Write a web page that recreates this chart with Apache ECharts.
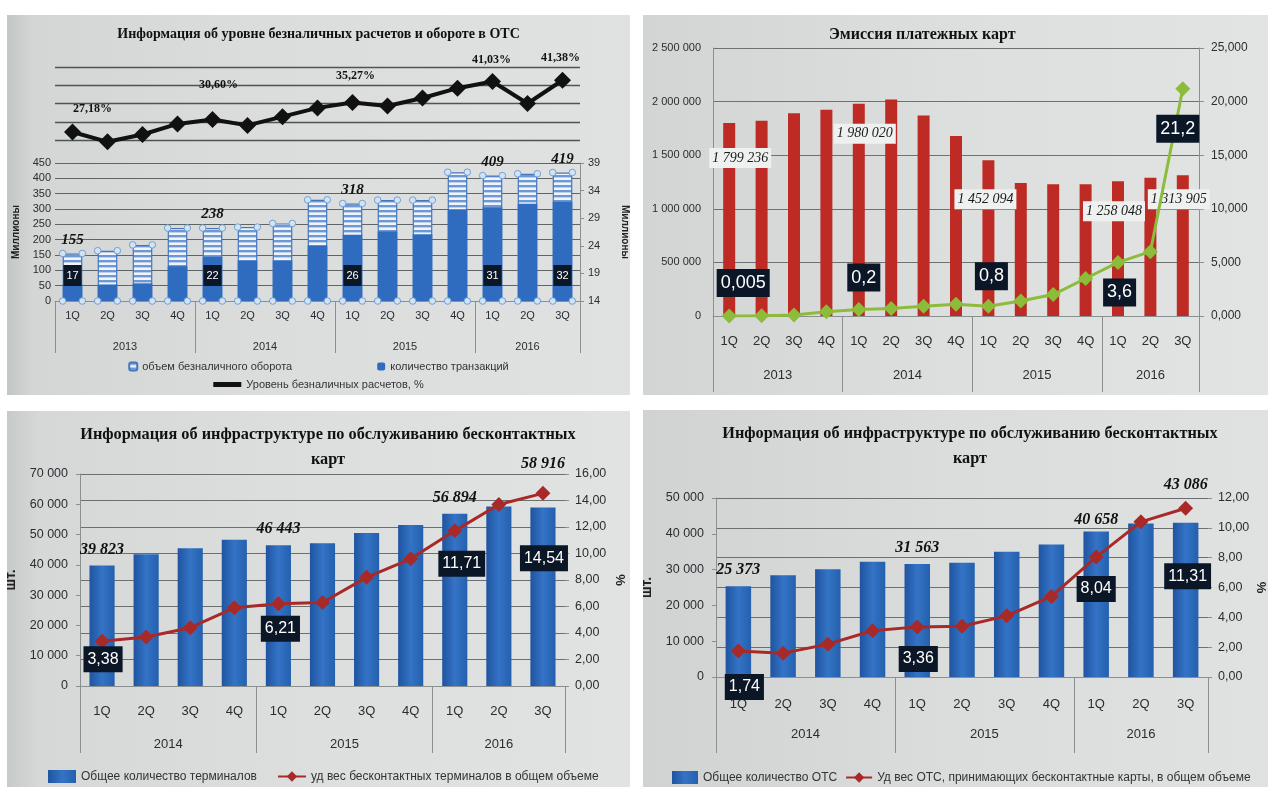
<!DOCTYPE html>
<html><head><meta charset="utf-8">
<script src="https://cdn.jsdelivr.net/npm/echarts@6/dist/echarts.min.js"></script>
<style>
html,body{margin:0;padding:0;background:#fff;width:1268px;height:787px;overflow:hidden;}
.panel{position:absolute;}
#tl{left:7px;top:15px;width:623px;height:380px;background:linear-gradient(90deg,#c2c6c5 0%,#d3d6d5 4%,#dadddc 40%,#e0e2e1 100%);}
#tr{left:643px;top:15px;width:625px;height:380px;background:linear-gradient(90deg,#d2d5d4 0%,#dcdfde 50%,#e2e4e3 100%);}
#bl{left:7px;top:411px;width:623px;height:376px;background:linear-gradient(90deg,#c6cac9 0%,#d5d8d7 5%,#dcdfde 50%,#e1e3e2 100%);}
#br{left:643px;top:410px;width:625px;height:377px;background:linear-gradient(90deg,#d0d3d2 0%,#dadddc 50%,#e0e2e1 100%);}
</style></head><body>
<div id="tl" class="panel"></div>
<div id="tr" class="panel"></div>
<div id="bl" class="panel"></div>
<div id="br" class="panel"></div>
<script>
// ================= DATA =================
// Chart 1 (top-left): 2013-2016 quarters
const quarters15 = ['1Q','2Q','3Q','4Q','1Q','2Q','3Q','4Q','1Q','2Q','3Q','4Q','1Q','2Q','3Q'];
const years15 = ['2013','2014','2015','2016'];
const yearQuarterCounts15 = [4,4,4,3];
const turnoverVolume = [155,164,183,238,238,241,253,330,318,329,329,420,409,415,419];
const transactionsCount = [17,17,17.2,20.3,22,21.3,21.3,24,26,26.6,26.1,30.6,31,31.6,32];
const cashlessLevel = [27.18,24.5,26.5,29.4,30.60,29.0,31.4,33.8,35.27,34.3,36.5,39.2,41.03,35.0,41.38];
const labeledIdx15 = [0,4,8,12,14];

// Chart 2 (top-right): emission of payment cards
const cardsIssued = [1799236,1822000,1892000,1925000,1980020,2020000,1870000,1680000,1452094,1240000,1230000,1230000,1258048,1290000,1313905];
const cardShare = [0.005,0.02,0.1,0.4,0.6,0.7,0.9,1.1,0.9,1.4,2.0,3.5,5.0,6.0,21.2];
const cardShareLabels = ['0,005','','','','0,2','','','','0,8','','','3,6','','','21,2'];
const cardsLabeledIdx = [0,4,8,12,14];

// Charts 3, 4 (bottom): 2014-2016 quarters
const quarters11 = ['1Q','2Q','3Q','4Q','1Q','2Q','3Q','4Q','1Q','2Q','3Q'];
const years11 = ['2014','2015','2016'];
const yearQuarterCounts11 = [4,4,3];
const terminalsTotal = [39823,43500,45500,48300,46443,47100,50500,53200,56894,59300,58916];
const contactlessTerminalShare = [3.38,3.7,4.4,5.9,6.21,6.3,8.2,9.6,11.71,13.7,14.54];
const posTotal = [25373,28400,30100,32200,31563,31900,35000,37000,40658,42900,43086];
const contactlessPosShare = [1.74,1.6,2.2,3.1,3.36,3.4,4.1,5.4,8.04,10.4,11.31];
const labeledIdx11 = [0,4,8,10];

// ================= HELPERS =================
const SERIF = "'Liberation Serif','Times New Roman',serif";
const SANS = "'Liberation Sans',Arial,sans-serif";
const TXT = '#2a2e31';
const AXC = '#8a8f90';
function fmtSpace(v){ return String(Math.round(v)).replace(/\B(?=(\d{3})+(?!\d))/g,' '); }
function fmtComma(v,d){ return Number(v).toFixed(d).replace('.',','); }
function withLabels(values, idxList, labelFor){
  return values.map((v,i)=> idxList.indexOf(i)>=0 ? {value:v, label:Object.assign({show:true}, labelFor(i))} : v);
}
function yearAxis(gridIndex, years, counts, tickLen, labelMargin, fontSize){
  const bounds=[-0.5], centers=[]; let s=0;
  counts.forEach(c=>{ centers.push(s+(c-1)/2); s+=c; bounds.push(s-0.5); });
  return {type:'value', gridIndex, position:'bottom', min:-0.5, max:s-0.5,
    axisLine:{show:false, onZero:false}, splitLine:{show:false},
    axisTick:{show:true, customValues:bounds, length:tickLen, lineStyle:{color:AXC, width:1}},
    axisLabel:{show:true, customValues:centers, margin:labelMargin, color:TXT, fontSize, fontFamily:SANS,
      formatter:(v)=>{ const i=centers.findIndex(c=>Math.abs(c-v)<1e-6); return i>=0?years[i]:''; }}};
}
function stripePattern(){
  const c=document.createElement('canvas'); c.width=8; c.height=5;
  const g=c.getContext('2d');
  g.fillStyle='#f1f5fb'; g.fillRect(0,0,8,5);
  g.fillStyle='#6d98d4'; g.fillRect(0,0,8,2.4);
  return c;
}
const boxLabel = (fs)=>({color:'#fff', backgroundColor:'#0b1627', fontFamily:SANS, fontSize:fs, padding:[5,4], position:'inside'});
const blueGrad = {type:'linear',x:0,y:0,x2:1,y2:0,colorStops:[{offset:0,color:'#1f549f'},{offset:0.5,color:'#3473c6'},{offset:1,color:'#2460ad'}]};

// ================= CHART 1 (top-left) =================
(function(){
  const ch = echarts.init(document.getElementById('tl'));
  const lineOffsets = {0:[20,-23],4:[6,-35],8:[3,-27],12:[-1,-22],14:[-2,-22]};
  ch.setOption({
    animation:false,
    title:{text:'Информация об уровне безналичных расчетов и обороте в ОТС', left:'center', top:7,
      textStyle:{fontFamily:SERIF, fontWeight:'bold', fontSize:14, color:'#111'}},
    grid:[{left:48, right:50, top:52, height:73, outerBoundsMode:'none'},{left:48, right:50, top:148, height:138, outerBoundsMode:'none'}],
    xAxis:[
      {type:'category', gridIndex:0, data:quarters15, show:false},
      {type:'category', gridIndex:1, data:quarters15, axisTick:{show:false}, axisLine:{lineStyle:{color:AXC}},
        axisLabel:{margin:9, fontSize:11, color:TXT, fontFamily:SANS}},
      yearAxis(1, years15, yearQuarterCounts15, 52, 40, 11)
    ],
    yAxis:[
      {type:'value', gridIndex:0, min:25, max:45, interval:5, axisLabel:{show:false}, axisLine:{show:false, onZero:false}, axisTick:{show:false},
        splitLine:{lineStyle:{color:'#4e5353', width:1.3}}},
      {type:'value', gridIndex:1, min:0, max:450, interval:50, name:'Миллионы', nameLocation:'middle', nameGap:32, nameRotate:90,
        nameTextStyle:{fontWeight:'bold', fontSize:10, color:'#222', fontFamily:SANS},
        axisLine:{show:false, onZero:false}, axisTick:{show:false}, axisLabel:{margin:4, fontSize:11, color:TXT, fontFamily:SANS},
        splitLine:{lineStyle:{color:'#5f6464', width:1.1}}},
      {type:'value', gridIndex:1, position:'right', min:14, max:39, name:'Миллионы', nameLocation:'middle', nameGap:40, nameRotate:-90,
        nameTextStyle:{fontWeight:'bold', fontSize:10, color:'#222', fontFamily:SANS},
        axisLine:{show:true, onZero:false, lineStyle:{color:AXC}}, axisTick:{show:true, length:4, customValues:[14,19,24,29,34,39], lineStyle:{color:AXC}},
        axisLabel:{margin:8, fontSize:11, color:TXT, fontFamily:SANS, customValues:[14,19,24,29,34,39]}, splitLine:{show:false}}
    ],
    legend:[
      {data:['объем безналичного оборота','количество транзакций'], top:341, left:'center', itemGap:85, itemWidth:8, itemHeight:8,
        textStyle:{fontSize:11, color:'#333', fontFamily:SANS}},
      {data:[{name:'Уровень безналичных расчетов, %', icon:'rect'}], top:359, left:'center', itemWidth:28, itemHeight:5,
        textStyle:{fontSize:11, color:'#333', fontFamily:SANS}}
    ],
    series:[
      {name:'объем безналичного оборота', type:'bar', xAxisIndex:1, yAxisIndex:1, barWidth:'56%',
        itemStyle:{color:{image:stripePattern(), repeat:'repeat'}, borderColor:'#4577c0', borderWidth:1.2},
        label:{show:false, position:'top', distance:6, fontFamily:SERIF, fontStyle:'italic', fontWeight:'bold', fontSize:15, color:'#111',
          formatter:(p)=>fmtSpace(p.value)},
        data:withLabels(turnoverVolume, labeledIdx15, ()=>({}))},
      {name:'количество транзакций', type:'bar', xAxisIndex:1, yAxisIndex:2, barWidth:'56%', barGap:'-100%',
        itemStyle:{color:'#2f6cc0'},
        label:{show:false, position:'insideBottom', distance:15, color:'#fff', backgroundColor:'#0b1627', fontFamily:SANS, fontSize:11, padding:[5,3],
          formatter:(p)=>String(p.value)},
        data:withLabels(transactionsCount, labeledIdx15, ()=>({}))},
      {name:'handles', type:'custom', xAxisIndex:1, yAxisIndex:1, silent:true, z:5,
        renderItem:(params, api)=>{
          const i=api.value(0), v=api.value(1);
          const top=api.coord([i,v]), bot=api.coord([i,0]);
          const w=api.size([1,0])[0]*0.56/2;
          const pts=[[top[0]-w,top[1]],[top[0]+w,top[1]],[bot[0]-w,bot[1]],[bot[0]+w,bot[1]]];
          return {type:'group', children:pts.map(p=>({type:'circle', shape:{cx:p[0],cy:p[1],r:3.3},
            style:{fill:'#d3e3f3', stroke:'#6f9fd6', lineWidth:1}}))};
        },
        data:turnoverVolume.map((v,i)=>[i,v])},
      {name:'Уровень безналичных расчетов, %', type:'line', xAxisIndex:0, yAxisIndex:0, clip:false, z:6,
        color:'#111', lineStyle:{color:'#111', width:4}, symbol:'diamond', symbolSize:17, itemStyle:{color:'#111'},
        label:{show:false, position:'inside', fontFamily:SERIF, fontWeight:'bold', fontSize:12, color:'#111',
          formatter:(p)=>fmtComma(p.value,2)+'%'},
        data:withLabels(cashlessLevel, labeledIdx15, (i)=>({offset:lineOffsets[i]}))}
    ]
  });
})();

// ================= CHART 2 (top-right) =================
(function(){
  const ch = echarts.init(document.getElementById('tr'));
  const barOffsets = {0:[11,20],4:[6,15],8:[-3,24],12:[-4,15],14:[-4,9]};
  const lineOffsets = {0:[14,-33],4:[5,-32],8:[3,-30],11:[34,14],14:[-5,40]};
  const lineIdx = cardShareLabels.map((t,i)=>t?i:-1).filter(i=>i>=0);
  ch.setOption({
    animation:false,
    title:{text:'Эмиссия платежных карт', left:181, top:7,
      textStyle:{fontFamily:SERIF, fontWeight:'bold', fontSize:16, color:'#111'}},
    grid:{left:70, right:69, top:33, height:268, outerBoundsMode:'none'},
    xAxis:[
      {type:'category', data:quarters15, axisTick:{show:false}, axisLine:{lineStyle:{color:AXC}},
        axisLabel:{margin:19, fontSize:13, color:TXT, fontFamily:SANS}},
      yearAxis(0, years15, yearQuarterCounts15, 76, 53, 13)
    ],
    yAxis:[
      {type:'value', min:0, max:2500000, interval:500000, axisLine:{show:true, onZero:false, lineStyle:{color:AXC}}, axisTick:{show:false},
        axisLabel:{margin:12, fontSize:11, color:TXT, fontFamily:SANS, formatter:(v)=>fmtSpace(v)},
        splitLine:{lineStyle:{color:'#6c7171', width:1.2}}},
      {type:'value', min:0, max:25, interval:5, position:'right', axisLine:{show:true, onZero:false, lineStyle:{color:AXC}},
        axisTick:{show:true, length:5, lineStyle:{color:AXC}},
        axisLabel:{margin:12, fontSize:12, color:TXT, fontFamily:SANS, formatter:(v)=>fmtComma(v,3)}, splitLine:{show:false}}
    ],
    series:[
      {name:'Эмиссия', type:'bar', barWidth:'37%', itemStyle:{color:'#be2b25'},
        label:{show:false, position:'insideTop', fontFamily:SERIF, fontStyle:'italic', fontSize:14, color:'#1a1a1a',
          backgroundColor:'#eef1f0', padding:[3,3], formatter:(p)=>fmtSpace(p.value)},
        data:withLabels(cardsIssued, cardsLabeledIdx, (i)=>({offset:barOffsets[i]}))},
      {name:'Доля', type:'line', yAxisIndex:1, z:5, color:'#8dbb3a', lineStyle:{color:'#8dbb3a', width:3},
        symbol:'diamond', symbolSize:15, itemStyle:{color:'#8dbb3a'},
        label:Object.assign({show:false, formatter:(p)=>cardShareLabels[p.dataIndex]}, boxLabel(18)),
        data:withLabels(cardShare, lineIdx, (i)=>({offset:lineOffsets[i]}))}
    ]
  });
})();

// ================= CHARTS 3, 4 (bottom) =================
function infraOption(cfg){
  return {
    animation:false,
    title:{text:'Информация об инфраструктуре по обслуживанию бесконтактных\nкарт', left:cfg.titleLeft, top:6, textAlign:'center',
      textStyle:{fontFamily:SERIF, fontWeight:'bold', fontSize:16.3, color:'#111', lineHeight:25, align:'center'}},
    grid:Object.assign({outerBoundsMode:'none'}, cfg.grid),
    xAxis:[
      {type:'category', data:quarters11, axisTick:{show:false}, axisLine:{lineStyle:{color:AXC}},
        axisLabel:{margin:cfg.qMargin, fontSize:13, color:TXT, fontFamily:SANS}},
      yearAxis(0, years11, yearQuarterCounts11, cfg.tickLen, cfg.yMargin, 13)
    ],
    yAxis:[
      {type:'value', min:0, max:cfg.leftMax, interval:10000, name:'шт.', nameLocation:'middle', nameGap:62, nameRotate:90,
        nameTextStyle:{fontWeight:'bold', fontSize:14, color:'#222', fontFamily:SANS},
        axisLine:{show:true, onZero:false, lineStyle:{color:AXC}}, axisTick:{show:true, length:4, lineStyle:{color:AXC}},
        axisLabel:{margin:12, fontSize:12.5, color:TXT, fontFamily:SANS, formatter:(v)=>fmtSpace(v)}, splitLine:{show:false}},
      {type:'value', min:0, max:cfg.rightMax, interval:2, position:'right', name:'%', nameLocation:'middle', nameGap:cfg.pctGap, nameRotate:-90,
        nameMoveOverlap:false,
        nameTextStyle:{fontWeight:'bold', fontSize:13, color:'#222', fontFamily:SANS},
        axisLine:{show:false, onZero:false}, axisTick:{show:true, length:4, lineStyle:{color:AXC}},
        axisLabel:{margin:10, fontSize:12.5, color:TXT, fontFamily:SANS, formatter:(v)=>fmtComma(v,2)},
        splitLine:{lineStyle:{color:'#6a6f6f', width:1.1}}}
    ],
    legend:{data:[{name:cfg.barName, icon:'rect'}, cfg.lineName], top:cfg.legendTop, left:cfg.legendLeft, right:0, itemGap:cfg.legendGap,
      itemWidth:cfg.legendIconW, itemHeight:13, textStyle:{fontSize:cfg.legendFont, color:'#333', fontFamily:SANS}},
    series:[
      {name:cfg.barName, type:'bar', barWidth:'57%', color:'#2c69bd', itemStyle:{color:blueGrad},
        label:{show:false, position:'top', distance:8, fontFamily:SERIF, fontStyle:'italic', fontWeight:'bold', fontSize:16, color:'#111',
          formatter:(p)=>fmtSpace(p.value)},
        data:withLabels(cfg.bars, labeledIdx11, (i)=>({offset:cfg.barOffsets[i]||[0,0]}))},
      {name:cfg.lineName, type:'line', yAxisIndex:1, z:5, color:'#a82a28', lineStyle:{color:'#a82a28', width:3},
        symbol:'diamond', symbolSize:15, itemStyle:{color:'#a82a28'},
        label:Object.assign({show:false, formatter:(p)=>fmtComma(p.value,2)}, boxLabel(16)),
        data:withLabels(cfg.line, labeledIdx11, (i)=>({offset:cfg.lineOffsets[i]}))}
    ]
  };
}
echarts.init(document.getElementById('bl')).setOption(infraOption({
  titleLeft:316, grid:{left:73, right:65, top:63, height:212},
  qMargin:19, yMargin:52, tickLen:67, leftMax:70000, rightMax:16, pctGap:48,
  barName:'Общее количество терминалов', lineName:'уд вес бесконтактных терминалов в общем объеме',
  legendTop:354, legendLeft:36, legendGap:20, legendFont:12, legendIconW:28,
  bars:terminalsTotal, line:contactlessTerminalShare,
  barOffsets:{0:[0,0],4:[0,0],8:[0,0],10:[0,-28]},
  lineOffsets:{0:[1,18],4:[2,25],8:[7,33],10:[1,65]}
}));
echarts.init(document.getElementById('br')).setOption(infraOption({
  titleLeft:322, grid:{left:73, right:60, top:88, height:179},
  qMargin:21, yMargin:51, tickLen:76, leftMax:50000, rightMax:12, pctGap:46,
  barName:'Общее количество ОТС', lineName:'Уд вес ОТС, принимающих бесконтактные карты, в общем объеме',
  legendTop:356, legendLeft:24, legendGap:8, legendFont:12, legendIconW:26,
  bars:posTotal, line:contactlessPosShare,
  barOffsets:{0:[0,0],4:[0,0],8:[0,4],10:[0,-22]},
  lineOffsets:{0:[6,36],4:[1,32],8:[0,32],10:[2,68]}
}));
</script>
</body></html>
